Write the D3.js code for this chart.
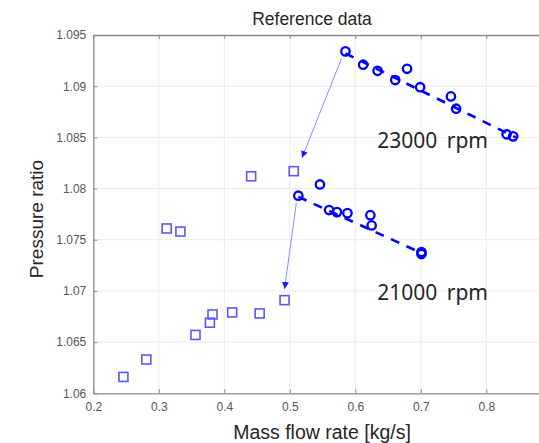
<!DOCTYPE html>
<html>
<head>
<meta charset="utf-8">
<script src="https://cdn.jsdelivr.net/npm/d3@7"></script>
<style>
  body { margin: 0; background: #fff; }
  svg { display: block; font-family: Arial, "Liberation Sans", sans-serif; }
</style>
</head>
<body>
<div id="chart"></div>
<script>
/* DATA */
const mdot23 = [0.585, 0.612, 0.634, 0.661, 0.679, 0.699, 0.746, 0.754, 0.831, 0.841];
const pr23 = [1.0934, 1.0921, 1.0915, 1.0906, 1.0917, 1.0899, 1.0890, 1.0878, 1.0853, 1.0851];
const mdot21 = [0.513, 0.546, 0.560, 0.572, 0.588, 0.623, 0.625, 0.701, 0.701];
const pr21 = [1.0793, 1.0804, 1.0779, 1.0777, 1.0776, 1.0774, 1.0764, 1.0738, 1.0736];
const refMdot = [0.246, 0.281, 0.312, 0.333, 0.356, 0.378, 0.382, 0.412, 0.441, 0.454, 0.492, 0.506];
const refPr = [1.0616, 1.0633, 1.0761, 1.0758, 1.0657, 1.0669, 1.0677, 1.0679, 1.0812, 1.0678, 1.0691, 1.0817];
// dashed trend lines (start, end)
const fit23 = [[0.585, 1.0932], [0.845, 1.0850]];
const fit21 = [[0.513, 1.0792], [0.701, 1.0737]];
// arrows from speed line to reference point
const arrows = [
  [[0.579, 1.0927], [0.5186, 1.0830]],
  [[0.510, 1.0786], [0.492, 1.0702]]
];
const speedLabels = [
  { text: "23000 rpm", x: 0.6335, y: 1.0840 },
  { text: "21000 rpm", x: 0.6335, y: 1.0691 }
];
const xTicks = [0.2, 0.3, 0.4, 0.5, 0.6, 0.7, 0.8];
const yTicks = [1.06, 1.065, 1.07, 1.075, 1.08, 1.085, 1.09, 1.095];

/* LAYOUT */
const width = 539, height = 443;
const plotLeft = 93.3, plotTop = 35, plotBottom = 393.3;

const svg = d3.select("#chart").append("svg")
  .attr("width", width)
  .attr("height", height);

// plot runs past the right edge of the picture
const xScale = d3.scaleLinear().domain([0.2, 0.9]).range([plotLeft, plotLeft + 655 * 0.7]);
const yScale = d3.scaleLinear().domain([1.06, 1.095]).range([plotBottom, plotTop]);

svg.append("defs").append("marker")
  .attr("id", "head")
  .attr("viewBox", "0 0 10 10")
  .attr("refX", 10).attr("refY", 5)
  .attr("markerWidth", 7).attr("markerHeight", 7)
  .attr("markerUnits", "userSpaceOnUse")
  .attr("orient", "auto")
  .append("path")
  .attr("d", "M0,0 L10,5 L0,10 Z")
  .attr("fill", "#1a1aff");

// grid
svg.append("g")
  .selectAll("line")
  .data(xTicks.slice(1))
  .join("line")
  .attr("x1", d => xScale(d)).attr("x2", d => xScale(d))
  .attr("y1", plotTop).attr("y2", plotBottom)
  .attr("stroke", "#ebebeb");
svg.append("g")
  .selectAll("line")
  .data(yTicks.slice(1, -1))
  .join("line")
  .attr("x1", plotLeft).attr("x2", width)
  .attr("y1", d => yScale(d)).attr("y2", d => yScale(d))
  .attr("stroke", "#ebebeb");

// axes
const xAxis = svg.append("g")
  .attr("transform", `translate(0,${plotBottom})`)
  .call(d3.axisBottom(xScale).tickValues(xTicks).tickSizeInner(-4).tickSizeOuter(0).tickPadding(9).tickFormat(d3.format("")));
const xTop = svg.append("g")
  .attr("transform", `translate(0,${plotTop})`)
  .call(d3.axisTop(xScale).tickValues(xTicks).tickSizeInner(-4).tickSizeOuter(0).tickFormat(""));
const yAxis = svg.append("g")
  .attr("transform", `translate(${plotLeft},0)`)
  .call(d3.axisLeft(yScale).tickValues(yTicks).tickSizeInner(-4).tickSizeOuter(0).tickPadding(7).tickFormat(d3.format("")));

[xAxis, xTop, yAxis].forEach(g => {
  g.select(".domain").attr("stroke", "#8a8a8a").attr("stroke-width", 1.3);
  g.selectAll(".tick line").attr("stroke", "#8a8a8a");
  g.selectAll(".tick text").attr("fill", "#555").style("font-size", "12px");
});

// titles
svg.append("text")
  .attr("x", 312).attr("y", 25)
  .attr("text-anchor", "middle")
  .style("font-size", "17.5px")
  .attr("fill", "#262626")
  .text("Reference data");
svg.append("text")
  .attr("x", 322).attr("y", 439)
  .attr("text-anchor", "middle")
  .style("font-size", "19.5px")
  .attr("fill", "#262626")
  .text("Mass flow rate [kg/s]");
svg.append("text")
  .attr("transform", "translate(42.5,219) rotate(-90)")
  .attr("text-anchor", "middle")
  .style("font-size", "19px")
  .attr("fill", "#262626")
  .text("Pressure ratio");

// arrows
svg.append("g")
  .selectAll("line")
  .data(arrows)
  .join("line")
  .attr("x1", d => xScale(d[0][0])).attr("y1", d => yScale(d[0][1]))
  .attr("x2", d => xScale(d[1][0])).attr("y2", d => yScale(d[1][1]))
  .attr("stroke", "#8c8cff")
  .attr("stroke-width", 1)
  .attr("marker-end", "url(#head)");

// dashed fits
const line = d3.line().x(d => xScale(d[0])).y(d => yScale(d[1]));
svg.append("g")
  .selectAll("path")
  .data([fit23, fit21])
  .join("path")
  .attr("d", line)
  .attr("fill", "none")
  .attr("stroke", "#0000ff")
  .attr("stroke-width", 2.6)
  .attr("stroke-dasharray", "9,8");

// reference squares
const refData = refMdot.map((m, i) => ({ m: m, p: refPr[i] }));
svg.append("g")
  .selectAll("rect")
  .data(refData)
  .join("rect")
  .attr("x", d => xScale(d.m) - 4.5)
  .attr("y", d => yScale(d.p) - 4.5)
  .attr("width", 9).attr("height", 9)
  .attr("fill", "none")
  .attr("stroke", "#5858ff")
  .attr("stroke-width", 1.6);

// speed line circles
const circData = mdot23.map((m, i) => ({ m: m, p: pr23[i] }))
  .concat(mdot21.map((m, i) => ({ m: m, p: pr21[i] })));
svg.append("g")
  .selectAll("circle")
  .data(circData)
  .join("circle")
  .attr("cx", d => xScale(d.m))
  .attr("cy", d => yScale(d.p))
  .attr("r", 4.2)
  .attr("fill", "none")
  .attr("stroke", "#0000ff")
  .attr("stroke-width", 2.3);

// rpm labels
svg.append("g")
  .selectAll("text")
  .data(speedLabels)
  .join("text")
  .attr("x", d => xScale(d.x))
  .attr("y", d => yScale(d.y))
  .style("font-family", "'Noto Sans', 'Open Sans', sans-serif")
  .style("font-size", "21px")
  .style("word-spacing", "4px")
  .attr("fill", "#262626")
  .text(d => d.text);
</script>
</body>
</html>
